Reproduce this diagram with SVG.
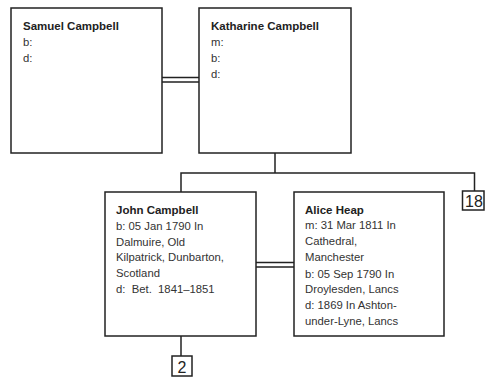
<svg xmlns="http://www.w3.org/2000/svg" width="485" height="384" viewBox="0 0 485 384">
<style>
.box{fill:#fff;stroke:#222;stroke-width:1.5}
.ln{fill:none;stroke:#222;stroke-width:1.5}
.nm{font-family:"Liberation Sans",Arial,sans-serif;font-size:11.5px;font-weight:bold;fill:#222}
.tx{font-family:"Liberation Sans",Arial,sans-serif;font-size:11.3px;fill:#333;white-space:pre}
.num{font-family:"Liberation Sans",Arial,sans-serif;font-size:16px;fill:#222;text-anchor:middle}
</style>
<rect width="485" height="384" fill="#fff"/>
<g id="connectors">
<path class="ln" d="M162 77.5H199M162 82H199"/>
<path class="ln" d="M256 262.5H294M256 267H294"/>
<path class="ln" d="M275 153V173M181 192V173H474.5V191"/>
<path class="ln" d="M181 336V356"/>
</g>
<g id="samuel">
<rect class="box" x="11" y="8" width="151" height="145"/>
<text class="nm" x="23" y="30">Samuel Campbell</text>
<text class="tx" x="23" y="46">b:</text>
<text class="tx" x="23" y="62">d:</text>
</g>
<g id="katharine">
<rect class="box" x="199" y="8" width="152" height="145"/>
<text class="nm" x="211" y="30">Katharine Campbell</text>
<text class="tx" x="211" y="46">m:</text>
<text class="tx" x="211" y="62">b:</text>
<text class="tx" x="211" y="78">d:</text>
</g>
<g id="john">
<rect class="box" x="105" y="192" width="151" height="144"/>
<text class="nm" x="116" y="214">John Campbell</text>
<text class="tx" x="116" y="230">b: 05 Jan 1790 In</text>
<text class="tx" x="116" y="245.7">Dalmuire, Old</text>
<text class="tx" x="116" y="261.4">Kilpatrick, Dunbarton,</text>
<text class="tx" x="116" y="277">Scotland</text>
<text class="tx" x="116" y="292.7" xml:space="preserve">d:  Bet.  1841–1851</text>
</g>
<g id="alice">
<rect class="box" x="294" y="192" width="150" height="144"/>
<text class="nm" x="305" y="213.5">Alice Heap</text>
<text class="tx" x="305" y="229.3">m: 31 Mar 1811 In</text>
<text class="tx" x="305" y="245">Cathedral,</text>
<text class="tx" x="305" y="261">Manchester</text>
<text class="tx" x="305" y="277.5">b: 05 Sep 1790 In</text>
<text class="tx" x="305" y="293.3">Droylesden, Lancs</text>
<text class="tx" x="305" y="309">d: 1869 In Ashton-</text>
<text class="tx" x="305" y="324.5">under-Lyne, Lancs</text>
</g>
<g id="more18">
<rect class="box" x="462.5" y="191" width="21.5" height="19"/>
<text class="num" x="474" y="207">18</text>
</g>
<g id="more2">
<rect class="box" x="172" y="356" width="20" height="20"/>
<text class="num" x="182" y="373">2</text>
</g>
</svg>
